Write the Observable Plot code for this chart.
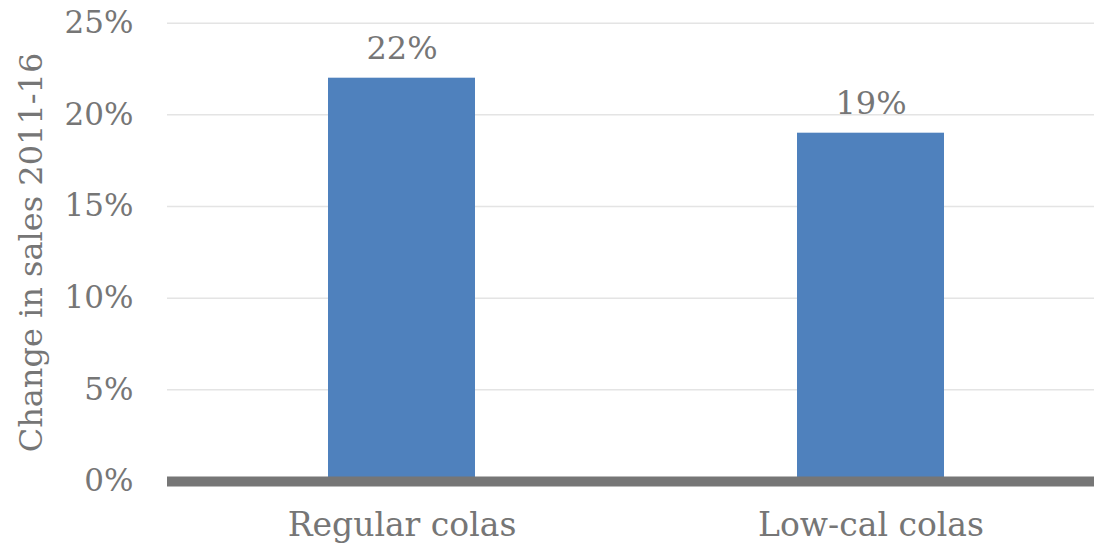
<!DOCTYPE html>
<html>
<head>
<meta charset="utf-8">
<script src="https://cdn.jsdelivr.net/npm/d3@7"></script>
<script src="https://cdn.jsdelivr.net/npm/@observablehq/plot@0.6"></script>
<style>
  html, body { margin: 0; padding: 0; background: #ffffff; }
  #chart svg { display: block; }
</style>
</head>
<body>
<div id="chart"></div>
<script>
// Change in cola sales, 2011–16
const categories = ["Regular colas", "Low-cal colas"];
const changes = [0.22, 0.19];
const yTicks = [0, 0.05, 0.10, 0.15, 0.20, 0.25];
const yTitle = "Change in sales 2011-16";

const data = categories.map((category, i) => ({category, change: changes[i]}));
const pct = d3.format(".0%");
const ink = "#767676";

const chart = Plot.plot({
  width: 1094,
  height: 545,
  marginLeft: 167,
  marginRight: 0,
  marginTop: 23,
  marginBottom: 64,
  style: {
    fontFamily: "'DejaVu Serif', serif",
    fontSize: "32px",
    color: ink,
    background: "#ffffff"
  },
  x: {
    domain: categories,
    range: [166.7, 1105.1],
    paddingInner: 0.686,
    paddingOuter: 0.343,
    label: null
  },
  y: {domain: [0, 0.25], range: [481, 22.7], label: null},
  marks: [
    Plot.ruleY(yTicks.slice(1), {stroke: "#e4e4e4", strokeWidth: 1.5}),
    Plot.barY(data, {x: "category", y: "change", fill: "#4f81bd"}),
    Plot.ruleY([0], {stroke: ink, strokeWidth: 10}),
    Plot.text(data, {
      x: "category",
      y: "change",
      text: d => pct(d.change),
      lineAnchor: "bottom",
      dy: -19,
      fill: ink,
      fontSize: 32
    }),
    Plot.axisY({
      ticks: yTicks,
      tickFormat: pct,
      tickSize: 0,
      tickPadding: 34,
      label: null,
      fontSize: 31
    }),
    Plot.axisX({tickSize: 0, tickPadding: 31, label: null, fontSize: 33}),
    Plot.text([yTitle], {
      frameAnchor: "left",
      dx: -136,
      rotate: -90,
      textAnchor: "middle",
      lineAnchor: "middle",
      fill: ink,
      fontSize: 32
    })
  ]
});

document.getElementById("chart").appendChild(chart);
</script>
</body>
</html>
